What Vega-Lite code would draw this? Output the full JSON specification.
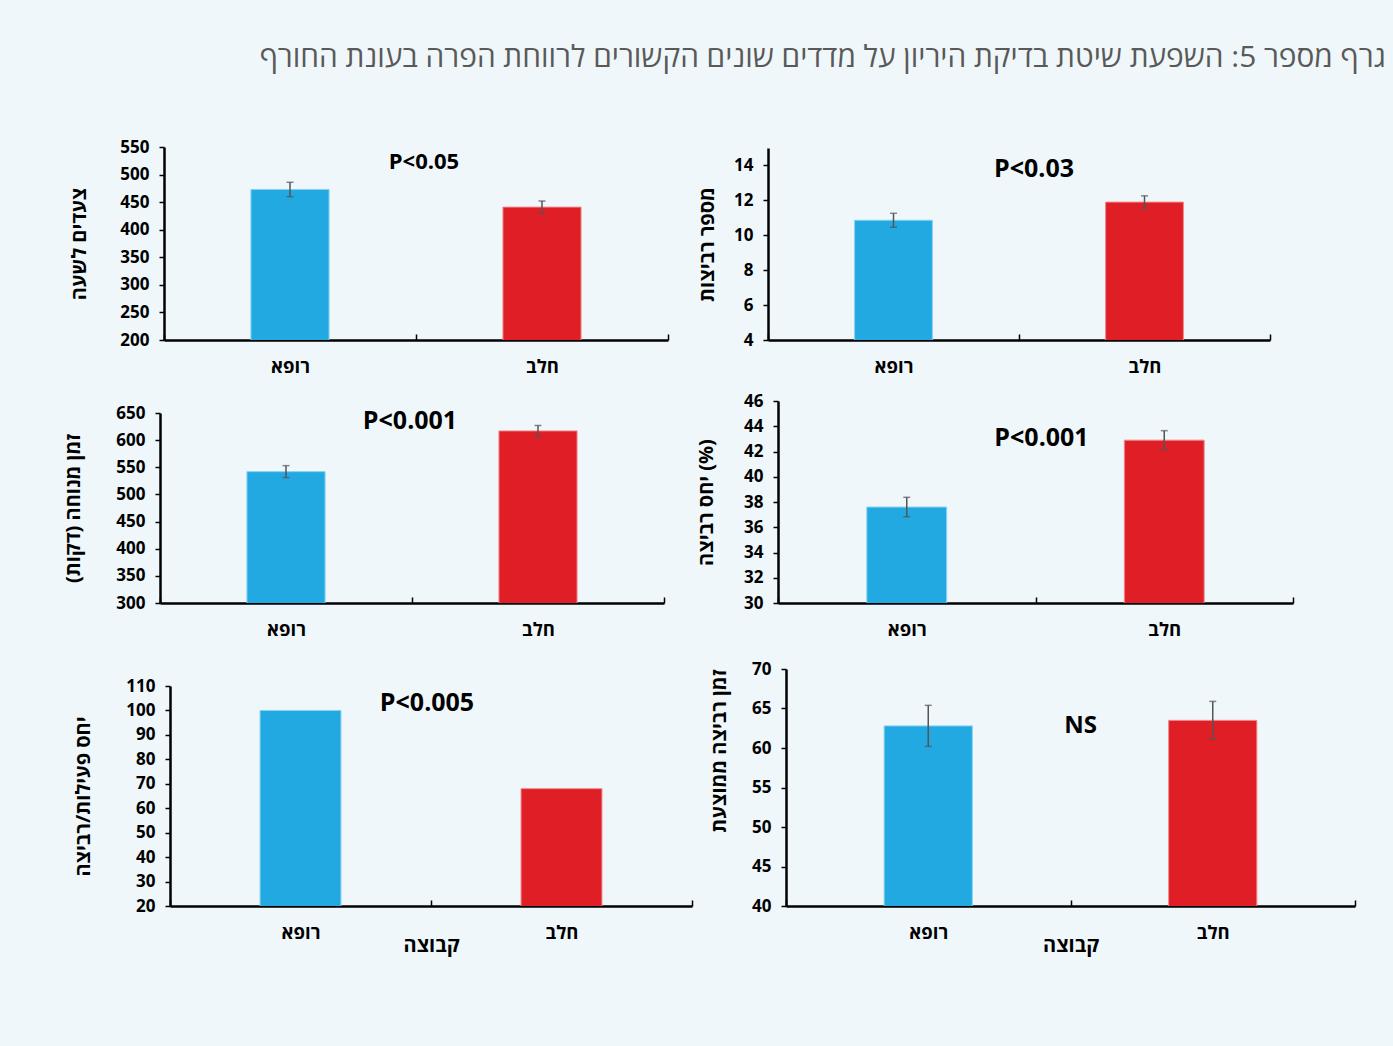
{
  "$schema": "https://vega.github.io/schema/vega-lite/v6.json",
  "background": "#EFF7FA",
  "padding": {"left": 63, "top": 43, "right": 8, "bottom": 90},
  "title": {
    "text": "גרף מספר 5: השפעת שיטת בדיקת היריון על מדדים שונים הקשורים לרווחת הפרה בעונת החורף",
    "anchor": "end",
    "font": "Open Sans",
    "fontSize": 29.8,
    "fontWeight": "normal",
    "color": "#595959",
    "offset": 65,
    "dx": 30
  },
  "datasets": {
    "bars": [
      {"panel": "p1", "group": "רופא", "value": 473, "err": 13},
      {"panel": "p1", "group": "חלב", "value": 441, "err": 11, "note": "P<0.05"},
      {"panel": "p2", "group": "רופא", "value": 10.86, "err": 0.4},
      {"panel": "p2", "group": "חלב", "value": 11.9, "err": 0.36, "note": "P<0.03"},
      {"panel": "p3", "group": "רופא", "value": 542, "err": 11},
      {"panel": "p3", "group": "חלב", "value": 617, "err": 10, "note": "P<0.001"},
      {"panel": "p4", "group": "רופא", "value": 37.6, "err": 0.77},
      {"panel": "p4", "group": "חלב", "value": 42.9, "err": 0.75, "note": "P<0.001"},
      {"panel": "p5", "group": "רופא", "value": 100},
      {"panel": "p5", "group": "חלב", "value": 68, "note": "P<0.005"},
      {"panel": "p6", "group": "רופא", "value": 62.8, "err": 2.6},
      {"panel": "p6", "group": "חלב", "value": 63.5, "err": 2.4, "note": "NS"}
    ]
  },
  "columns": 2,
  "align": "each",
  "bounds": "flush",
  "spacing": {"row": 61, "column": 100},
  "concat": [
    {
      "width": 504, "height": 193,
      "data": {"name": "bars"},
      "transform": [{"filter": "datum.panel === 'p1'"}],
      "encoding": {
        "x": {"field": "group", "type": "nominal", "sort": ["רופא", "חלב"], "scale": {"paddingInner": 0, "paddingOuter": 0, "range": [0, 504]}, "axis": {"title": null}},
        "y": {"field": "value", "type": "quantitative", "scale": {"domain": [200, 550], "zero": false, "nice": false, "range": [193, 0]}, "axis": {"values": [200, 250, 300, 350, 400, 450, 500, 550], "title": "צעדים לשעה", "titlePadding": 30}}
      },
      "layer": [
        {"mark": {"type": "bar", "width": {"band": 0.31}, "clip": true, "strokeWidth": 1}, "encoding": {"color": {"field": "group", "type": "nominal", "scale": {"domain": ["רופא", "חלב"], "range": ["#23A9E1", "#E01E25"]}, "legend": null}, "stroke": {"field": "group", "type": "nominal", "scale": {"domain": ["רופא", "חלב"], "range": ["#86D2F2", "#F0898D"]}, "legend": null}}},
        {"mark": {"type": "errorbar", "color": "#555555", "thickness": 1.5, "ticks": {"size": 7, "thickness": 1.5}}, "encoding": {"yError": {"field": "err"}}},
        {"transform": [{"filter": "datum.note != null"}], "mark": {"type": "text", "font": "Open Sans", "fontWeight": "bold", "fontSize": 22, "baseline": "middle", "dx": 8}, "encoding": {"x": {"datum": "חלב", "bandPosition": 0}, "y": {"datum": 523}, "text": {"field": "note"}}}
      ]
    },
    {
      "width": 502, "height": 193,
      "data": {"name": "bars"},
      "transform": [{"filter": "datum.panel === 'p2'"}],
      "encoding": {
        "x": {"field": "group", "type": "nominal", "sort": ["רופא", "חלב"], "scale": {"paddingInner": 0, "paddingOuter": 0, "range": [0, 502]}, "axis": {"title": null}},
        "y": {"field": "value", "type": "quantitative", "scale": {"domain": [4, 15], "zero": false, "nice": false, "range": [193, 1]}, "axis": {"values": [4, 6, 8, 10, 12, 14], "title": "מספר רביצות", "titlePadding": 16}}
      },
      "layer": [
        {"mark": {"type": "bar", "width": {"band": 0.31}, "clip": true, "strokeWidth": 1}, "encoding": {"color": {"field": "group", "type": "nominal", "scale": {"domain": ["רופא", "חלב"], "range": ["#23A9E1", "#E01E25"]}, "legend": null}, "stroke": {"field": "group", "type": "nominal", "scale": {"domain": ["רופא", "חלב"], "range": ["#86D2F2", "#F0898D"]}, "legend": null}}},
        {"mark": {"type": "errorbar", "color": "#555555", "thickness": 1.5, "ticks": {"size": 7, "thickness": 1.5}}, "encoding": {"yError": {"field": "err"}}},
        {"transform": [{"filter": "datum.note != null"}], "mark": {"type": "text", "font": "Open Sans", "fontWeight": "bold", "fontSize": 25, "baseline": "middle", "dx": 15}, "encoding": {"x": {"datum": "חלב", "bandPosition": 0}, "y": {"datum": 13.77}, "text": {"field": "note"}}}
      ]
    },
    {
      "width": 504, "height": 202,
      "data": {"name": "bars"},
      "transform": [{"filter": "datum.panel === 'p3'"}],
      "encoding": {
        "x": {"field": "group", "type": "nominal", "sort": ["רופא", "חלב"], "scale": {"paddingInner": 0, "paddingOuter": 0, "range": [-4, 500]}, "axis": {"title": null}},
        "y": {"field": "value", "type": "quantitative", "scale": {"domain": [300, 650], "zero": false, "nice": false, "range": [202, 12]}, "axis": {"values": [300, 350, 400, 450, 500, 550, 600, 650], "title": "זמן מנוחה (דקות)", "titlePadding": 32, "offset": 4}}
      },
      "layer": [
        {"mark": {"type": "bar", "width": {"band": 0.31}, "clip": true, "strokeWidth": 1}, "encoding": {"color": {"field": "group", "type": "nominal", "scale": {"domain": ["רופא", "חלב"], "range": ["#23A9E1", "#E01E25"]}, "legend": null}, "stroke": {"field": "group", "type": "nominal", "scale": {"domain": ["רופא", "חלב"], "range": ["#86D2F2", "#F0898D"]}, "legend": null}}},
        {"mark": {"type": "errorbar", "color": "#555555", "thickness": 1.5, "ticks": {"size": 7, "thickness": 1.5}}, "encoding": {"yError": {"field": "err"}}},
        {"transform": [{"filter": "datum.note != null"}], "mark": {"type": "text", "font": "Open Sans", "fontWeight": "bold", "fontSize": 25, "baseline": "middle", "dx": -2}, "encoding": {"x": {"datum": "חלב", "bandPosition": 0}, "y": {"datum": 635}, "text": {"field": "note"}}}
      ]
    },
    {
      "width": 502, "height": 202,
      "data": {"name": "bars"},
      "transform": [{"filter": "datum.panel === 'p4'"}],
      "encoding": {
        "x": {"field": "group", "type": "nominal", "sort": ["רופא", "חלב"], "scale": {"paddingInner": 0, "paddingOuter": 0, "range": [10, 525]}, "axis": {"title": null}},
        "y": {"field": "value", "type": "quantitative", "scale": {"domain": [30, 46], "zero": false, "nice": false, "range": [202, 0]}, "axis": {"values": [30, 32, 34, 36, 38, 40, 42, 44, 46], "title": "יחס רביצה (%)", "titlePadding": 27, "offset": -10}}
      },
      "layer": [
        {"mark": {"type": "bar", "width": {"band": 0.31}, "clip": true, "strokeWidth": 1}, "encoding": {"color": {"field": "group", "type": "nominal", "scale": {"domain": ["רופא", "חלב"], "range": ["#23A9E1", "#E01E25"]}, "legend": null}, "stroke": {"field": "group", "type": "nominal", "scale": {"domain": ["רופא", "חלב"], "range": ["#86D2F2", "#F0898D"]}, "legend": null}}},
        {"mark": {"type": "errorbar", "color": "#555555", "thickness": 1.5, "ticks": {"size": 7, "thickness": 1.5}}, "encoding": {"yError": {"field": "err"}}},
        {"transform": [{"filter": "datum.note != null"}], "mark": {"type": "text", "font": "Open Sans", "fontWeight": "bold", "fontSize": 25, "baseline": "middle", "dx": 6}, "encoding": {"x": {"datum": "חלב", "bandPosition": 0}, "y": {"datum": 43.06}, "text": {"field": "note"}}}
      ]
    },
    {
      "width": 504, "height": 242,
      "data": {"name": "bars"},
      "transform": [{"filter": "datum.panel === 'p5'"}],
      "encoding": {
        "x": {"field": "group", "type": "nominal", "sort": ["רופא", "חלב"], "scale": {"paddingInner": 0, "paddingOuter": 0, "range": [6, 528]}, "axis": {"title": "קבוצה", "titlePadding": -6}},
        "y": {"field": "value", "type": "quantitative", "scale": {"domain": [20, 110], "zero": false, "nice": false, "range": [242, 22]}, "axis": {"values": [20, 30, 40, 50, 60, 70, 80, 90, 100, 110], "title": "יחס פעילות/רביצה", "titlePadding": 32, "offset": -6}}
      },
      "layer": [
        {"mark": {"type": "bar", "width": {"band": 0.31}, "clip": true, "strokeWidth": 1}, "encoding": {"color": {"field": "group", "type": "nominal", "scale": {"domain": ["רופא", "חלב"], "range": ["#23A9E1", "#E01E25"]}, "legend": null}, "stroke": {"field": "group", "type": "nominal", "scale": {"domain": ["רופא", "חלב"], "range": ["#86D2F2", "#F0898D"]}, "legend": null}}},
        {"transform": [{"filter": "datum.note != null"}], "mark": {"type": "text", "font": "Open Sans", "fontWeight": "bold", "fontSize": 25, "baseline": "middle", "dx": -4}, "encoding": {"x": {"datum": "חלב", "bandPosition": 0}, "y": {"datum": 102.9}, "text": {"field": "note"}}}
      ]
    },
    {
      "width": 502, "height": 242,
      "data": {"name": "bars"},
      "transform": [{"filter": "datum.panel === 'p6'"}],
      "encoding": {
        "x": {"field": "group", "type": "nominal", "sort": ["רופא", "חלב"], "scale": {"paddingInner": 0, "paddingOuter": 0, "range": [18, 587]}, "axis": {"title": "קבוצה", "titlePadding": -6}},
        "y": {"field": "value", "type": "quantitative", "scale": {"domain": [40, 70], "zero": false, "nice": false, "range": [242, 5]}, "axis": {"values": [40, 45, 50, 55, 60, 65, 70], "title": "זמן רביצה ממוצעת", "titlePadding": 22, "titleAnchor": "end", "offset": -18}}
      },
      "layer": [
        {"mark": {"type": "bar", "width": {"band": 0.31}, "clip": true, "strokeWidth": 1}, "encoding": {"color": {"field": "group", "type": "nominal", "scale": {"domain": ["רופא", "חלב"], "range": ["#23A9E1", "#E01E25"]}, "legend": null}, "stroke": {"field": "group", "type": "nominal", "scale": {"domain": ["רופא", "חלב"], "range": ["#86D2F2", "#F0898D"]}, "legend": null}}},
        {"mark": {"type": "errorbar", "color": "#555555", "thickness": 1.5, "ticks": {"size": 7, "thickness": 1.5}}, "encoding": {"yError": {"field": "err"}}},
        {"transform": [{"filter": "datum.note != null"}], "mark": {"type": "text", "font": "Open Sans", "fontWeight": "bold", "fontSize": 24, "baseline": "middle", "dx": 10}, "encoding": {"x": {"datum": "חלב", "bandPosition": 0}, "y": {"datum": 62.8}, "text": {"field": "note"}}}
      ]
    }
  ],
  "config": {
    "view": {"stroke": null},
    "font": "Open Sans",
    "axis": {
      "grid": false,
      "domainColor": "#000000",
      "domainWidth": 2.5,
      "tickColor": "#000000",
      "tickWidth": 1.5,
      "labelColor": "#000000",
      "labelFont": "Open Sans",
      "labelFontWeight": "bold",
      "labelFontSize": 17,
      "titleFont": "Open Sans",
      "titleFontWeight": "bold",
      "titleFontSize": 20,
      "titleColor": "#000000"
    },
    "axisY": {"tickSize": 5, "labelPadding": 10},
    "axisX": {"tickBand": "extent", "tickSize": -6, "labelPadding": 23, "labelAngle": 0, "labelFontSize": 18.5}
  }
}
